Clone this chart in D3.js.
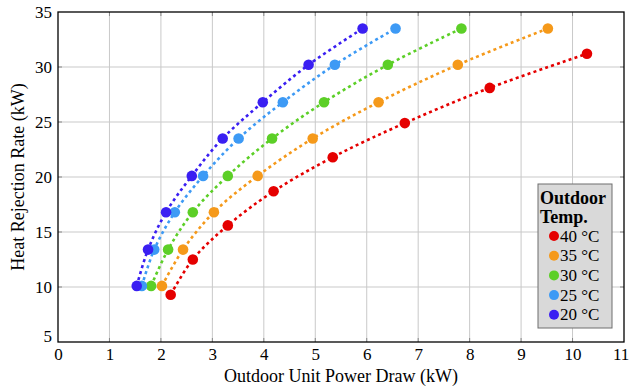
<!DOCTYPE html>
<html>
<head>
<meta charset="utf-8">
<script src="https://cdn.jsdelivr.net/npm/d3@7"></script>
<style>
  body { margin: 0; background: #fff; }
</style>
</head>
<body>
<div id="chart"></div>
<script>
// Values
const temps = ['40 °C', '35 °C', '30 °C', '25 °C', '20 °C'];
const colors = ['#e50000', '#f5991a', '#5ccf27', '#3d9af5', '#3a1ff2'];

const power40 = [2.19, 2.62, 3.30, 4.19, 5.34, 6.74, 8.39, 10.28];
const heat40 = [9.3, 12.5, 15.6, 18.7, 21.8, 24.9, 28.1, 31.2];
const power35 = [2.02, 2.43, 3.03, 3.88, 4.95, 6.23, 7.77, 9.52];
const power30 = [1.81, 2.14, 2.62, 3.30, 4.16, 5.17, 6.41, 7.84];
const power25 = [1.63, 1.87, 2.27, 2.82, 3.51, 4.37, 5.38, 6.56];
const power20 = [1.53, 1.75, 2.10, 2.60, 3.20, 3.98, 4.87, 5.92];
const heatCommon = [10.1, 13.4, 16.8, 20.1, 23.5, 26.8, 30.2, 33.5];

const xTicks = d3.range(0, 12);
const yTicks = [5, 10, 15, 20, 25, 30, 35];

const seriesList = [
  { name: temps[0], color: colors[0], xs: power40, ys: heat40 },
  { name: temps[1], color: colors[1], xs: power35, ys: heatCommon },
  { name: temps[2], color: colors[2], xs: power30, ys: heatCommon },
  { name: temps[3], color: colors[3], xs: power25, ys: heatCommon },
  { name: temps[4], color: colors[4], xs: power20, ys: heatCommon }
];

const FONT = '"Liberation Serif", "Times New Roman", Tinos, "DejaVu Serif", serif';

const width = 630, height = 390;
const margin = { top: 12, right: 6, bottom: 48, left: 58 };
const innerW = width - margin.left - margin.right;
const innerH = height - margin.top - margin.bottom;

const svg = d3.select('#chart').append('svg')
  .attr('width', width)
  .attr('height', height)
  .style('font-family', FONT);

const g = svg.append('g')
  .attr('transform', `translate(${margin.left},${margin.top})`);

const x = d3.scaleLinear().domain([0, 11]).range([0, innerW]);
const y = d3.scaleLinear().domain([5, 35]).range([innerH, 0]);

// grid
g.append('g')
  .selectAll('line')
  .data(xTicks.slice(1, -1))
  .join('line')
  .attr('x1', d => x(d)).attr('x2', d => x(d))
  .attr('y1', 0).attr('y2', innerH)
  .attr('stroke', '#c9c9c9').attr('stroke-width', 1);

g.append('g')
  .selectAll('line')
  .data(yTicks.slice(1, -1))
  .join('line')
  .attr('x1', 0).attr('x2', innerW)
  .attr('y1', d => y(d)).attr('y2', d => y(d))
  .attr('stroke', '#c9c9c9').attr('stroke-width', 1);

// inner tick marks (pgfplots style)
const tickLen = 4;
const tickG = g.append('g').attr('stroke', '#888').attr('stroke-width', 1);
xTicks.slice(1, -1).forEach(t => {
  tickG.append('line').attr('x1', x(t)).attr('x2', x(t)).attr('y1', innerH).attr('y2', innerH - tickLen);
  tickG.append('line').attr('x1', x(t)).attr('x2', x(t)).attr('y1', 0).attr('y2', tickLen);
});
yTicks.slice(1, -1).forEach(t => {
  tickG.append('line').attr('x1', 0).attr('x2', tickLen).attr('y1', y(t)).attr('y2', y(t));
  tickG.append('line').attr('x1', innerW).attr('x2', innerW - tickLen).attr('y1', y(t)).attr('y2', y(t));
});

// axis labels via d3 axes (domain and tick lines hidden)
const xAxis = g.append('g')
  .attr('transform', `translate(0,${innerH})`)
  .call(d3.axisBottom(x).tickValues(xTicks).tickSize(0).tickPadding(6))
  .attr('font-family', FONT)
  .attr('font-size', 17);
xAxis.select('.domain').remove();
xAxis.selectAll('text')
  .attr('fill', '#000')
  .attr('dx', d => d === 11 ? '-0.2em' : 0);

const yAxis = g.append('g')
  .call(d3.axisLeft(y).tickValues(yTicks).tickSize(0).tickPadding(6))
  .attr('font-family', FONT)
  .attr('font-size', 17);
yAxis.select('.domain').remove();
yAxis.selectAll('text')
  .attr('fill', '#000')
  .attr('dy', d => d === 5 ? '-0.05em' : '0.32em');

// frame
g.append('rect')
  .attr('x', 0).attr('y', 0)
  .attr('width', innerW).attr('height', innerH)
  .attr('fill', 'none').attr('stroke', '#000').attr('stroke-width', 1.3);

// series
const line = d3.line()
  .x(d => x(d[0]))
  .y(d => y(d[1]))
  .curve(d3.curveCatmullRom.alpha(0.5));

seriesList.forEach(s => {
  const pts = s.xs.map((v, i) => [v, s.ys[i]]);
  g.append('path')
    .datum(pts)
    .attr('d', line)
    .attr('fill', 'none')
    .attr('stroke', s.color)
    .attr('stroke-width', 2.6)
    .attr('stroke-dasharray', '3,3.2');
  g.append('g')
    .selectAll('circle')
    .data(pts)
    .join('circle')
    .attr('cx', d => x(d[0]))
    .attr('cy', d => y(d[1]))
    .attr('r', 5.3)
    .attr('fill', s.color);
});

// axis titles
svg.append('text')
  .attr('x', margin.left + innerW / 2)
  .attr('y', 382)
  .attr('text-anchor', 'middle')
  .attr('font-size', 18)
  .text('Outdoor Unit Power Draw (kW)');

svg.append('text')
  .attr('transform', `translate(24,${margin.top + innerH / 2}) rotate(-90)`)
  .attr('text-anchor', 'middle')
  .attr('font-size', 18)
  .text('Heat Rejection Rate (kW)');

// legend
const legend = svg.append('g').attr('transform', 'translate(538,184)');
legend.append('rect')
  .attr('width', 74).attr('height', 144)
  .attr('fill', '#d9d9d9')
  .attr('stroke', '#6e6e6e').attr('stroke-width', 1);
legend.append('text')
  .attr('x', 2).attr('y', 20)
  .attr('font-size', 18).attr('font-weight', 'bold')
  .text('Outdoor');
legend.append('text')
  .attr('x', 2).attr('y', 39)
  .attr('font-size', 18).attr('font-weight', 'bold')
  .text('Temp.');
seriesList.forEach((s, i) => {
  const cy = 52 + i * 19.7;
  legend.append('circle')
    .attr('cx', 16).attr('cy', cy).attr('r', 5)
    .attr('fill', s.color);
  legend.append('text')
    .attr('x', 22).attr('y', cy + 5.5)
    .attr('font-size', 17)
    .text(s.name);
});
</script>
</body>
</html>
